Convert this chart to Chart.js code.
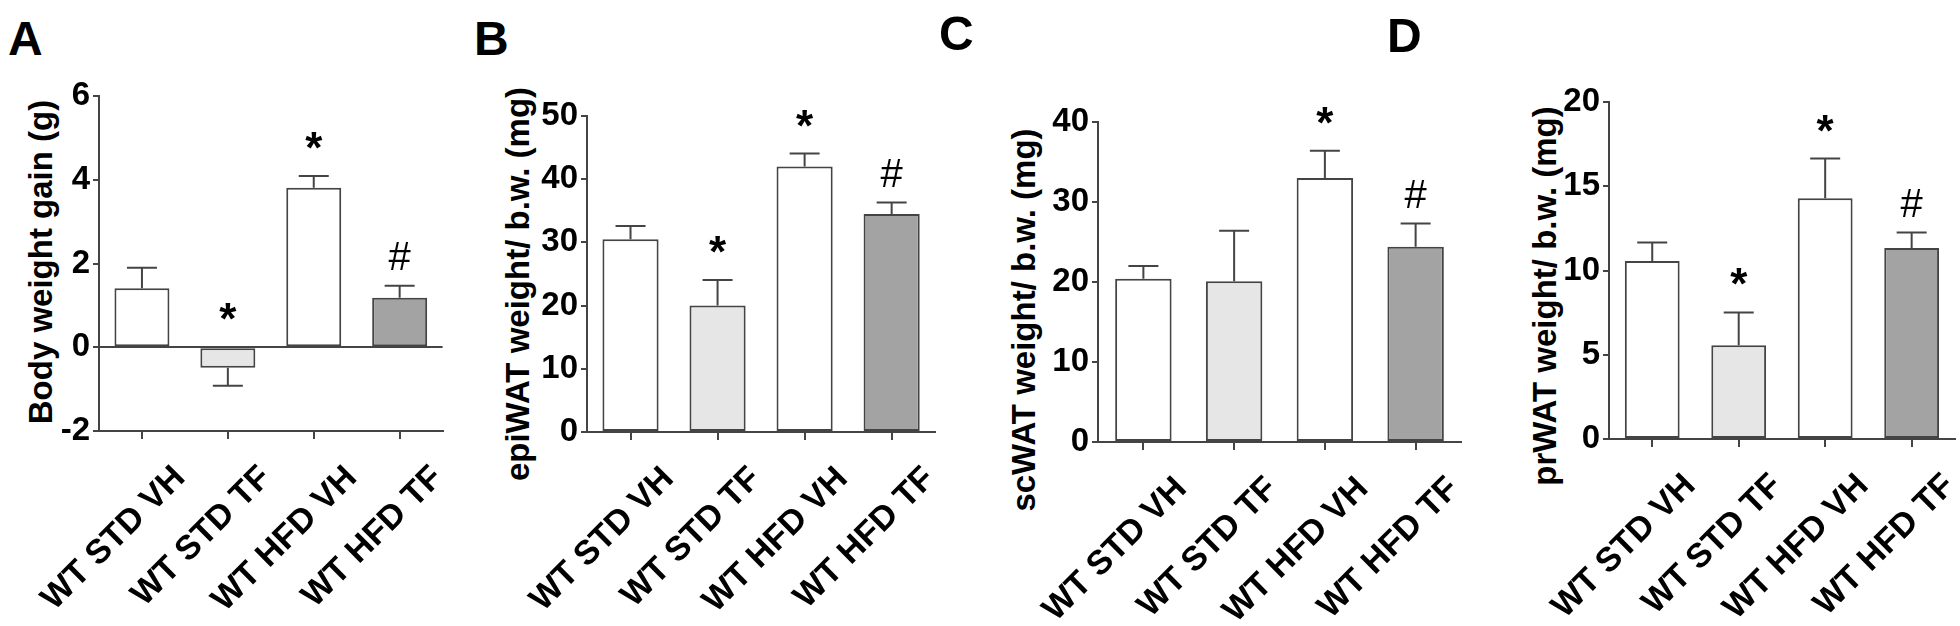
<!DOCTYPE html>
<html>
<head>
<meta charset="utf-8">
<script src="https://cdn.jsdelivr.net/npm/chart.js@4.4.1/dist/chart.umd.min.js"></script>
<style>
  body { margin: 0; background: #fff; width: 1960px; height: 626px; overflow: hidden; position: relative;
         font-family: "Liberation Sans", Arial, sans-serif; }
  canvas { position: absolute; top: 0; }
  .letter { position: absolute; font-weight: bold; font-size: 48px; line-height: 1; color: #000; }
  .ytitle { position: absolute; font-weight: bold; font-size: 33px; line-height: 1; white-space: nowrap; color: #000;
            transform: translate(-50%, -50%) rotate(-90deg); }
</style>
</head>
<body>
<script>
// groups on the x axis (same for all four panels)
const groups = ["WT STD VH", "WT STD TF", "WT HFD VH", "WT HFD TF"];

// A - body weight gain (g)
const bodyGain = [1.41, -0.49, 3.81, 1.18];
const bodyGainSem = [0.49, 0.43, 0.28, 0.29];
const bodyGainMarks = ["", "*", "*", "#"];
const bodyGainTicks = [-2, 6, 2]; // min, max, step

// B - epiWAT weight / b.w. (mg)
const epiWat = [30.5, 20.0, 42.0, 34.5];
const epiWatSem = [2.1, 4.05, 2.05, 1.8];
const epiWatMarks = ["", "*", "*", "#"];
const epiWatTicks = [0, 50, 10];

// C - scWAT weight / b.w. (mg)
const scWat = [20.4, 20.1, 33.0, 24.4];
const scWatSem = [1.6, 6.3, 3.4, 2.9];
const scWatMarks = ["", "", "*", "#"];
const scWatTicks = [0, 40, 10];

// D - prWAT weight / b.w. (mg)
const prWat = [10.57, 5.57, 14.29, 11.34];
const prWatSem = [1.09, 1.94, 2.35, 0.91];
const prWatMarks = ["", "*", "*", "#"];
const prWatTicks = [0, 20, 5];

const barFills = ["#ffffff", "#e6e6e6", "#ffffff", "#a3a3a3"];
const lineColor = "#444";
const fontFamily = '"Liberation Sans", Arial, sans-serif';

Chart.defaults.font.family = fontFamily;
Chart.defaults.color = "#000";

// error bars (SEM, drawn away from zero) and significance marks over the bars
const errorBarsAndMarks = {
  id: "errorBarsAndMarks",
  afterDatasetsDraw(chart, args, opts) {
    const ctx = chart.ctx;
    const y = chart.scales.y;
    const values = chart.data.datasets[0].data;
    chart.getDatasetMeta(0).data.forEach((bar, i) => {
      const v = values[i];
      const end = v >= 0 ? v + opts.sem[i] : v - opts.sem[i];
      const yv = y.getPixelForValue(v);
      const ye = y.getPixelForValue(end);
      ctx.save();
      ctx.strokeStyle = lineColor;
      ctx.lineWidth = 2;
      ctx.beginPath();
      ctx.moveTo(bar.x, yv);
      ctx.lineTo(bar.x, ye);
      ctx.moveTo(bar.x - 15, ye);
      ctx.lineTo(bar.x + 15, ye);
      ctx.stroke();

      const mark = opts.marks[i];
      if (mark) {
        // centre of the glyph sits a fixed gap above the error bar (or above zero)
        const cy = Math.min(ye, y.getPixelForValue(0)) - 36;
        ctx.fillStyle = "#000";
        ctx.textAlign = "center";
        ctx.textBaseline = "alphabetic";
        if (mark === "*") {
          ctx.font = "bold 44px " + fontFamily;
          ctx.fillText(mark, bar.x, cy + 23);
        } else {
          ctx.font = "40px " + fontFamily;
          ctx.fillText(mark, bar.x, cy + 20);
        }
      }
      ctx.restore();
    });
  }
};

const panels = [
  { letter: "A", lx: 8, ly: 15, values: bodyGain, sem: bodyGainSem, marks: bodyGainMarks, ticks: bodyGainTicks,
    title: "Body weight gain (g)", tx: 40, ty: 262,
    axisLeft: 99, axisRight: 444, top: 96, bottom: 431, barPct: 0.64 },
  { letter: "B", lx: 474, ly: 15, values: epiWat, sem: epiWatSem, marks: epiWatMarks, ticks: epiWatTicks,
    title: "epiWAT weight/ b.w. (mg)", tx: 517, ty: 284,
    axisLeft: 587, axisRight: 936, top: 116, bottom: 432, barPct: 0.645 },
  { letter: "C", lx: 939, ly: 10, values: scWat, sem: scWatSem, marks: scWatMarks, ticks: scWatTicks,
    title: "scWAT weight/ b.w. (mg)", tx: 1023, ty: 320,
    axisLeft: 1098, axisRight: 1461, top: 122, bottom: 442, barPct: 0.622 },
  { letter: "D", lx: 1387, ly: 12, values: prWat, sem: prWatSem, marks: prWatMarks, ticks: prWatTicks,
    title: "prWAT weight/ b.w. (mg)", tx: 1544, ty: 296,
    axisLeft: 1609, axisRight: 1956, top: 102, bottom: 439, barPct: 0.634 }
];

const H = 626;
const yAxisWidth = 160;

panels.forEach((p) => {
  const letter = document.createElement("div");
  letter.className = "letter";
  letter.textContent = p.letter;
  letter.style.left = p.lx + "px";
  letter.style.top = p.ly + "px";
  document.body.appendChild(letter);

  const title = document.createElement("div");
  title.className = "ytitle";
  title.textContent = p.title;
  title.style.left = p.tx + "px";
  title.style.top = p.ty + "px";
  document.body.appendChild(title);

  const left = p.axisLeft - yAxisWidth;
  const canvas = document.createElement("canvas");
  canvas.width = Math.min(p.axisRight + 4, 1960) - left;
  canvas.height = H;
  canvas.style.left = left + "px";
  document.body.appendChild(canvas);

  new Chart(canvas, {
    type: "bar",
    data: {
      labels: groups,
      datasets: [{
        data: p.values,
        backgroundColor: barFills,
        borderColor: lineColor,
        borderWidth: 2,
        borderSkipped: false,
        barPercentage: p.barPct,
        categoryPercentage: 1
      }]
    },
    options: {
      responsive: false,
      animation: false,
      devicePixelRatio: 1,
      layout: { padding: { top: p.top, right: canvas.width - (p.axisRight - left), left: 0, bottom: 0 } },
      plugins: {
        legend: { display: false },
        tooltip: { enabled: false },
        errorBarsAndMarks: { sem: p.sem, marks: p.marks }
      },
      scales: {
        x: {
          offset: true,
          grid: { offset: false, drawOnChartArea: false, tickLength: 8, color: lineColor, lineWidth: 2 },
          border: { display: true, color: lineColor, width: 2 },
          ticks: {
            autoSkip: false, minRotation: 45, maxRotation: 45,
            labelOffset: 38, padding: 19,
            font: { size: 34, weight: "bold" }
          },
          afterFit: (s) => { s.height = H - p.bottom; }
        },
        y: {
          min: p.ticks[0],
          max: p.ticks[1],
          grid: {
            drawOnChartArea: true, drawTicks: true, tickLength: 6, lineWidth: 2,
            color: (c) => (c.tick && c.tick.value === 0 ? lineColor : "rgba(0,0,0,0)"),
            tickColor: lineColor
          },
          border: { display: true, color: lineColor, width: 2 },
          ticks: { stepSize: p.ticks[2], padding: 3, font: { size: 33, weight: "bold" } },
          afterFit: (s) => { s.width = yAxisWidth; }
        }
      }
    },
    plugins: [errorBarsAndMarks]
  });
});
</script>
</body>
</html>
